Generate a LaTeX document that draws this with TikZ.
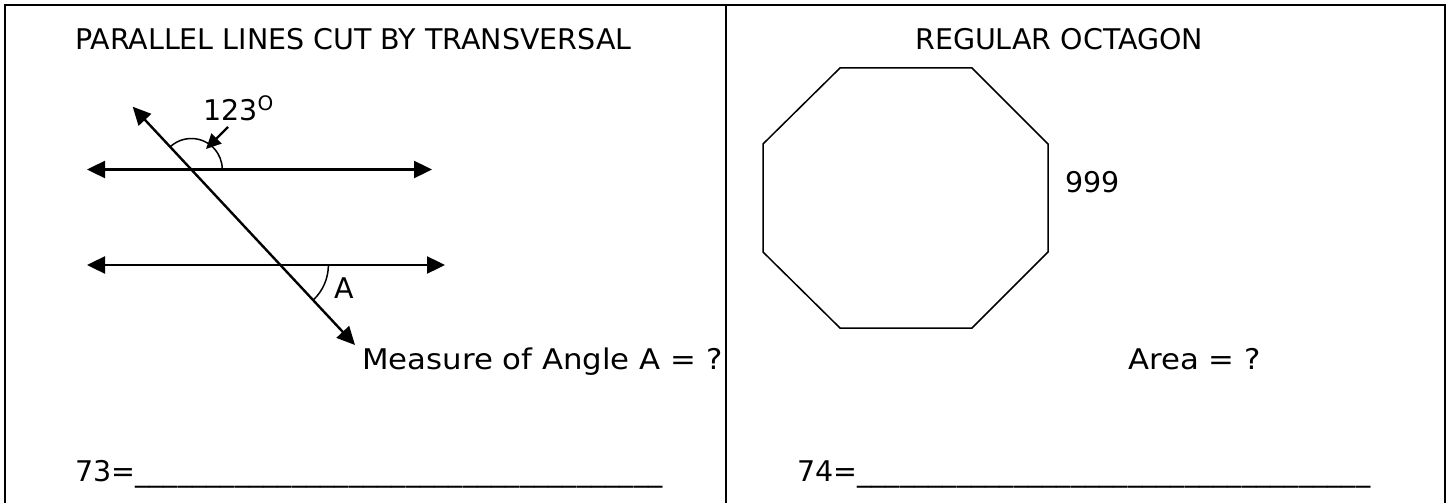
\documentclass[tikz,border=0pt]{standalone}
\usepackage{fontspec}
\setmainfont{DejaVu Sans}
\newfontfamily\widefont[FakeStretch=1.08]{DejaVu Sans}
\usetikzlibrary{arrows.meta}
\begin{document}
\begin{tikzpicture}[x=1pt,y=-1pt,
  frame/.style={line width=2.5pt},
  geo/.style={line width=2.4pt},
  thin/.style={line width=1.5pt},
  bothtips/.style={geo,{Triangle[length=18pt,width=17pt]}-{Triangle[length=18pt,width=17pt]}},
  pointer/.style={line width=2.4pt,-{Triangle[length=15pt,width=14pt]}},
  txt/.style={inner sep=0pt,anchor=base west,font=\fontsize{28.5}{34}\selectfont},
  wtxt/.style={txt,font=\widefont\fontsize{28.5}{34}\selectfont}]
\useasboundingbox (0,0) rectangle (1448,503);
% frame
\coordinate (tl) at (5,5);
\coordinate (br) at (1445,515);
\coordinate (mt) at (726,5);
\coordinate (mb) at (726,515);
\draw[frame] (tl) rectangle (br);
\draw[frame] (mt) -- (mb);
% titles
\node[txt] (title1) at (75,50) {PARALLEL LINES CUT BY TRANSVERSAL};
\node[txt] (title2) at (915,50) {REGULAR OCTAGON};
% parallel lines
\coordinate (l1) at (87,169.5);
\coordinate (r1) at (432,169.5);
\coordinate (l2) at (87,265);
\coordinate (r2) at (445,265);
\coordinate (t1) at (132.7,106.7);
\coordinate (t2) at (355,345);
\draw[bothtips] (l1) -- (r1);
\draw[bothtips] (l2) -- (r2);
\draw[bothtips] (t1) -- (t2);
\coordinate (ic1) at (intersection of t1--t2 and l1--r1);
\coordinate (ic2) at (intersection of t1--t2 and l2--r2);
\draw[thin] (ic1) ++(-133:31) arc[start angle=-133,end angle=0,radius=31];
\draw[thin] (ic2) ++(0:48) arc[start angle=0,end angle=47,radius=48];
% labels
\node[txt] (deg) at (203,120) {123\textsuperscript{O}};
\coordinate (pa) at (228,127);
\coordinate (pb) at (206,149);
\draw[pointer] (pa) -- (pb);
\node[txt] (lblA) at (334,298) {A};
\node[wtxt] (q1) at (362,369) {Measure of Angle A = ?};
\node[txt] (ans1) at (75,481) {73=\_\_\_\_\_\_\_\_\_\_\_\_\_\_\_\_\_\_\_\_\_\_\_\_\_\_\_\_\_\_\_\_\_\_\_\_\_};
% octagon
\coordinate (o1) at (840,68);
\coordinate (o2) at (972,68);
\coordinate (o3) at (1048,144);
\coordinate (o4) at (1048,252);
\coordinate (o5) at (972,328);
\coordinate (o6) at (840,328);
\coordinate (o7) at (763,252);
\coordinate (o8) at (763,144);
\draw[thin,line join=miter] (o1) -- (o2) -- (o3) -- (o4) -- (o5) -- (o6) -- (o7) -- (o8) -- cycle;
\node[txt] (side) at (1065,192) {999};
\node[wtxt] (q2) at (1128,369) {Area = ?};
\node[txt] (ans2) at (797,481) {74=\_\_\_\_\_\_\_\_\_\_\_\_\_\_\_\_\_\_\_\_\_\_\_\_\_\_\_\_\_\_\_\_\_\_\_\_};
\end{tikzpicture}
\end{document}
